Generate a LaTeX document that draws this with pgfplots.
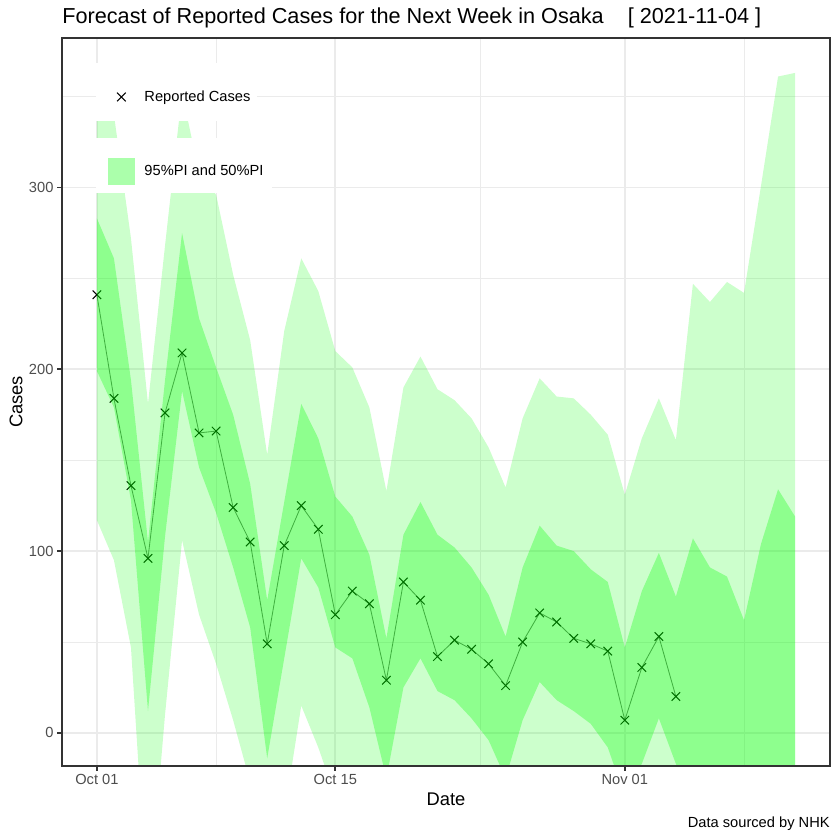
\documentclass[border=0pt]{standalone}
\usepackage{fontspec}
\setmainfont{Liberation Sans}
\usepackage{pgfplots}
\pgfplotsset{compat=1.18}
\usepackage{pgfplotstable}
\usepgfplotslibrary{fillbetween}
\definecolor{gg92}{HTML}{EBEBEB}
\definecolor{gg20}{HTML}{333333}
\definecolor{gg30}{HTML}{4D4D4D}
\definecolor{ggreen}{HTML}{00FF00}
\definecolor{legsq}{HTML}{ABFFAB}

\pgfplotstableread{
day u95 u50 l50 l95
0 345 283 199 117
1 340 261 179 95
2 272 194 128 47
3 181 105 12 -100
4 268 194 108 10
5 352 275 188 106
6 308 228 146 65
7 296 201 121 38
8 252 175 91 7
9 216 137 58 -27
10 153 73 -14 -70
11 221 127 41 -45
12 261 181 96 15
13 243 162 80 -8
14 210 130 47 -35
15 201 119 41 -45
16 179 98 14 -50
17 133 52 -25 -70
18 190 109 25 -45
19 207 127 41 -40
20 189 109 23 -45
21 183 102 18 -50
22 173 91 8 -55
23 157 76 -4 -60
24 135 53 -25 -70
25 173 91 7 -55
26 195 114 28 -45
27 185 103 18 -50
28 184 100 12 -55
29 175 90 5 -60
30 164 83 -8 -65
31 131 47 -35 -80
32 162 78 -17 -60
33 184 99 8 -40
34 161 75 -17 -60
35 247 107 -40 -90
36 237 91 -45 -95
37 248 86 -50 -100
38 242 62 -55 -110
39 301 104 -50 -100
40 361 134 -40 -90
41 363 119 -40 -90
}\bands

\pgfplotstableread{
day cases
0 241
1 184
2 136
3 96
4 176
5 209
6 165
7 166
8 124
9 105
10 49
11 103
12 125
13 112
14 65
15 78
16 71
17 29
18 83
19 73
20 42
21 51
22 46
23 38
24 26
25 50
26 66
27 61
28 52
29 49
30 45
31 7
32 36
33 53
34 20
}\cases

\pgfplotsset{
  ggleg/.style={
    legend style={draw=none, fill=none, inner sep=0pt, outer sep=0pt,
      anchor=west, font=\fontsize{8.8bp}{10bp}\selectfont,
      nodes={inner sep=0pt, outer sep=0pt},
      /tikz/every odd column/.append style={column sep=5.2bp}},
    legend cell align=left,
  }
}

\begin{document}
\begin{tikzpicture}
\begin{axis}[
  name=main,
  set layers,
  scale only axis, width=460.8bp, height=436.8bp,
  at={(0,0)}, anchor=south west,
  xmin=-2.05, xmax=43.05, ymin=-18.2, ymax=382.2,
  xtick={0,14,31}, xticklabels={Oct 01,Oct 15,Nov 01},
  ytick={0,100,200,300},
  minor xtick={7,22.5,38}, minor ytick={50,150,250,350},
  grid=both,
  major grid style={gg92, line width=1.07bp},
  minor grid style={gg92, line width=0.53bp},
  minor tick length=0pt,
  major tick length=2.75bp,
  tick align=outside,
  tick pos=left,
  tick style={gg20, line width=1.07bp},
  axis line style={gg20, line width=1.07bp},
  ticklabel style={font=\fontsize{8.8bp}{10bp}\selectfont, text=gg30, inner sep=0pt},
  xticklabel style={anchor=north, yshift=-2.2bp},
  yticklabel style={anchor=east, xshift=-2.2bp},
  /pgf/number format/assume math mode=true,
  ggleg,
  legend style={at={(0.0586,0.919)}},
]
% connecting line and points: below the bands
\addplot[on layer=axis tick labels, black, opacity=0.55, line width=0.5bp, forget plot] table[x=day,y=cases]{\cases};
\addplot[on layer=axis tick labels, mark layer=axis tick labels, only marks, mark=x, mark size=3.6bp, mark options={black, line width=0.6bp},
  legend image code/.code={
    \path[draw=none, fill=none] (0bp,-8.64bp) rectangle (17.28bp,8.64bp);
    \draw[black, line width=0.6bp] (6.04bp,-2.6bp) -- (11.24bp,2.6bp) (6.04bp,2.6bp) -- (11.24bp,-2.6bp);
  }] table[x=day,y=cases]{\cases};
\addlegendentry{Reported Cases}
% prediction intervals (pre main layer)
\addplot[draw=none, name path=u95, forget plot] table[x=day,y=u95]{\bands};
\addplot[draw=none, name path=l95, forget plot] table[x=day,y=l95]{\bands};
\addplot[draw=none, name path=u50, forget plot] table[x=day,y=u50]{\bands};
\addplot[draw=none, name path=l50, forget plot] table[x=day,y=l50]{\bands};
\addplot[fill=ggreen, fill opacity=0.2, draw=none, forget plot] fill between[of=u95 and l95];
\addplot[fill=ggreen, fill opacity=0.3, draw=none, forget plot] fill between[of=u50 and l50];
% legend backgrounds
\fill[white] (rel axis cs:0.0443,0.886) rectangle (rel axis cs:0.2539,0.9657);
\fill[white] (rel axis cs:0.0443,0.7871) rectangle (rel axis cs:0.2734,0.8626);
% panel border on top
\draw[gg20, line width=1.07bp] (rel axis cs:0,0) rectangle (rel axis cs:1,1);
\end{axis}
\begin{axis}[
  scale only axis, width=460.8bp, height=436.8bp,
  at={(0,0)}, anchor=south west,
  hide axis, xmin=0, xmax=1, ymin=0, ymax=1,
  ggleg,
  legend style={at={(0.0586,0.8166)}},
]
\addlegendimage{legend image code/.code={
    \path[draw=none, fill=none] (0bp,-8.64bp) rectangle (17.28bp,8.64bp);
    \fill[legsq, draw=none] (0.54bp,-8.1bp) rectangle (16.74bp,8.1bp);
  }}
\addlegendentry{95\%PI and 50\%PI}
\end{axis}
% titles and labels
\node[anchor=base west, inner sep=0pt, font=\fontsize{13bp}{15bp}\selectfont] at (0bp,445.2bp)
  {Forecast of Reported Cases for the Next Week in Osaka\ \ \ \ [ 2021-11-04 ]};
\node[anchor=base, inner sep=0pt, font=\fontsize{11bp}{13bp}\selectfont] at (230.4bp,-23.4bp) {Date};
\node[anchor=center, rotate=90, inner sep=0pt, font=\fontsize{11bp}{13bp}\selectfont] at (-27.6bp,218.4bp) {Cases};
\node[anchor=base east, inner sep=0pt, font=\fontsize{8.8bp}{10bp}\selectfont] at (460.8bp,-36.6bp) {Data sourced by NHK};
\pgfresetboundingbox
\path[use as bounding box] (-37.2bp,-44.4bp) rectangle (466.8bp,459.6bp);
\end{tikzpicture}
\end{document}
